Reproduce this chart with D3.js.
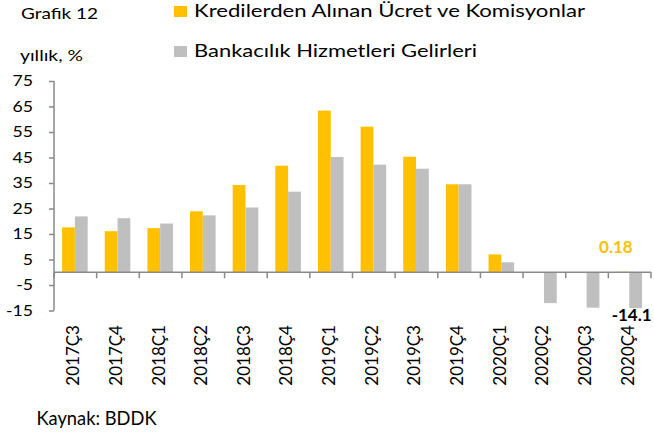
<!DOCTYPE html>
<html><head><meta charset="utf-8">
<script src="https://cdn.jsdelivr.net/npm/d3@7"></script>
<style>
html,body{margin:0;padding:0;background:#fff;overflow:hidden;}
svg{display:block;font-family:Lato,"Noto Sans",sans-serif;}
</style></head>
<body>
<svg id="c" width="654" height="437"></svg>
<script>
const categories = ["2017Ç3","2017Ç4","2018Ç1","2018Ç2","2018Ç3","2018Ç4","2019Ç1","2019Ç2","2019Ç3","2019Ç4","2020Ç1","2020Ç2","2020Ç3","2020Ç4"];
const seriesNames = ["Kredilerden Alınan Ücret ve Komisyonlar","Bankacılık Hizmetleri Gelirleri"];
const krediValues = [17.6,16.1,17.3,23.9,34.2,41.8,63.4,57.1,45.3,34.5,7.0,0,0,0.18];
const bankaValues = [21.9,21.2,19.1,22.3,25.4,31.6,45.2,42.2,40.6,34.5,3.9,-12.1,-13.9,-14.1];
const yTicks = [-15,-5,5,15,25,35,45,55,65,75];
const colors = ["#FFC000","#BFBFBF"];
const labelIndex = 13;

const svg = d3.select("#c");
const axisColor = "#898989";
const y = d3.scaleLinear().domain([-15,75]).range([310.5,81]);
const x = d3.scaleBand().domain(categories).range([54,651]);
const bw = x.bandwidth();
const x1 = d3.scaleBand().domain([0,1]).range([bw*0.19, bw*0.79]);
const fmtNum = (f) => (v) => d3.format(f)(v).replace("\u2212","-");

const data = [krediValues, bankaValues];

// bars
data.forEach((vals, si) => {
  svg.append("g").selectAll("rect").data(vals).join("rect")
    .attr("x", (d,i) => x(categories[i]) + x1(si))
    .attr("width", x1.bandwidth())
    .attr("y", d => y(Math.max(0,d)))
    .attr("height", d => Math.abs(y(d) - y(0)))
    .attr("fill", colors[si]);
});

// y axis
const yAxis = svg.append("g").attr("transform","translate(54,0)")
  .call(d3.axisLeft(y).tickValues(yTicks).tickSize(5).tickFormat(fmtNum("d")));
yAxis.select(".domain").attr("stroke",axisColor).attr("stroke-width",1.5).attr("d","M0,81V310.5");
yAxis.selectAll(".tick line").attr("stroke",axisColor).attr("stroke-width",1.5);
yAxis.selectAll(".tick text").attr("font-size",15).attr("fill","#000").attr("font-family","Lato")
  .attr("x",0).attr("text-anchor","end").attr("transform","translate(-21,0) scale(1.18,1)");

// x axis at zero
const xAxisG = svg.append("g").attr("transform",`translate(0,${y(0)})`);
xAxisG.append("line").attr("x1",54).attr("x2",651).attr("stroke",axisColor).attr("stroke-width",1.5);
const bounds = categories.map(c => x(c)).concat([x(categories[categories.length-1]) + bw]);
xAxisG.selectAll("line.t").data(bounds).join("line").attr("class","t")
  .attr("x1",d=>d).attr("x2",d=>d).attr("y1",0).attr("y2",6)
  .attr("stroke",axisColor).attr("stroke-width",1.5);

// x labels
svg.append("g").selectAll("text").data(categories).join("text")
  .attr("transform", d => `translate(${x(d)+bw/2-2},325) rotate(-90)`)
  .attr("text-anchor","end").attr("dy","0.35em")
  .attr("font-size",17).attr("fill","#000")
  .text(d => d);

// data labels
const kx = x(categories[labelIndex]) + x1(0) + x1.bandwidth()/2;
svg.append("text").attr("x", kx - 7).attr("y", y(krediValues[labelIndex]) - 19)
  .attr("text-anchor","middle").attr("font-size",17).attr("font-weight","bold")
  .attr("fill",colors[0]).text(fmtNum(".2f")(krediValues[labelIndex]));
const bx = x(categories[labelIndex]) + x1(1) + x1.bandwidth()/2;
svg.append("text").attr("x", bx - 24).attr("y", y(bankaValues[labelIndex]) + 13)
  .attr("text-anchor","start").attr("font-size",17).attr("font-weight","bold")
  .attr("fill","#000").text(fmtNum(".1f")(bankaValues[labelIndex]));

// titles
function stretchText(t, xx, yy, size, len) {
  svg.append("text").attr("x",xx).attr("y",yy).attr("font-size",size)
    .attr("textLength",len).attr("lengthAdjust","spacingAndGlyphs").attr("fill","#000").text(t);
}
stretchText("Grafik 12", 21, 19, 16, 77);
stretchText("yıllık, %", 20, 61, 16, 63);
stretchText("Kaynak: BDDK", 36.5, 425, 19, 120);

// legend
const legTextLen = [391, 283];
seriesNames.forEach((n,i) => {
  const ly = i === 0 ? 17 : 57;
  svg.append("rect").attr("x",174).attr("y",ly-11).attr("width",13).attr("height",11).attr("fill",colors[i]);
  stretchText(n, 194, ly, 18, legTextLen[i]);
});
</script>
</body></html>
